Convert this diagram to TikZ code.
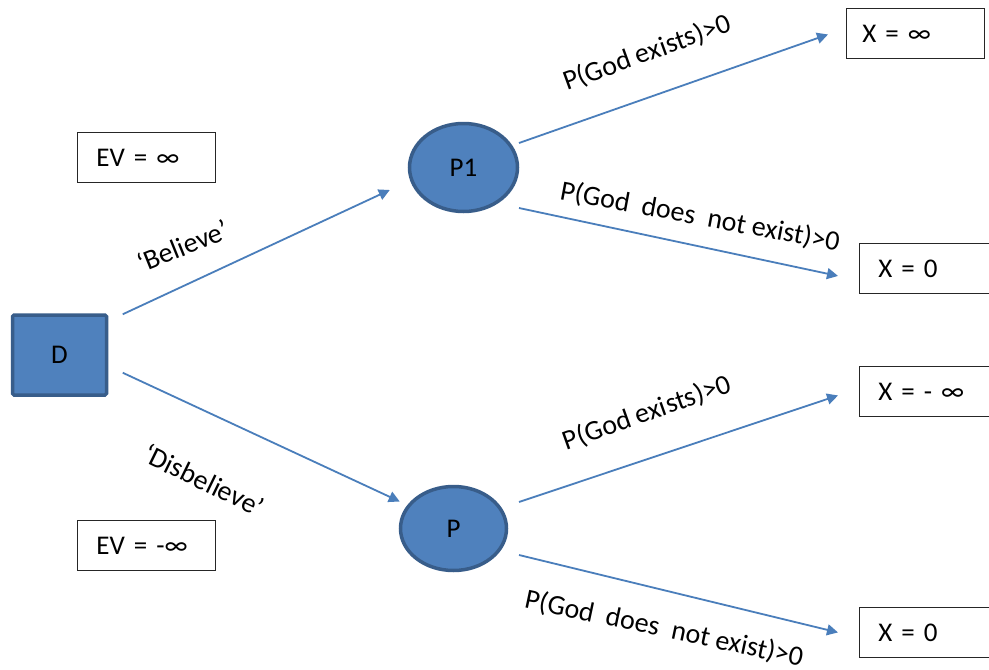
\documentclass[tikz,border=0pt]{standalone}
\usepackage{fontspec}
\setmainfont{Carlito}
\usetikzlibrary{arrows.meta,shapes.geometric,calc}
\definecolor{nodefill}{HTML}{4F81BD}
\definecolor{nodeedge}{HTML}{385D8A}
\definecolor{linkblue}{HTML}{4A7EBB}
\begin{document}
\begin{tikzpicture}[x=1pt,y=-1pt,
  font=\fontsize{27}{32}\selectfont,
  decision/.style={rectangle, draw=nodeedge, line width=3.5pt, fill=nodefill,
    minimum width=94pt, minimum height=80pt, rounded corners=1.5pt},
  chance/.style={ellipse, draw=nodeedge, line width=3.5pt, fill=nodefill,
    inner sep=0pt},
  valbox/.style={rectangle, draw=black!85, line width=0.9pt, fill=white,
    minimum height=50pt, text width=100pt, inner xsep=19pt, align=left,
    anchor=north west},
  link/.style={draw=linkblue, line width=1.8pt,
    -{Triangle[length=11pt,width=11pt]}},
  edgelab/.style={inner sep=0pt, font=\fontsize{28}{32}\selectfont}]
\clip (0,0) rectangle (989,670);
\fill[white] (0,0) rectangle (989,670);

% decision and chance nodes
\node[decision] (D) at (59.5,355) {D};
\node[chance, minimum width=108pt, minimum height=88pt] (P1) at (463.5,167.5) {P1};
\node[chance, minimum width=106pt, minimum height=84pt] (P) at (453.5,528.5) {P};

% payoff boxes
\node[valbox, inner xsep=16pt, text width=106pt] (X1) at (846,8) {X = ∞};
\node[valbox] (X2) at (859,243) {X = 0};
\node[valbox] (X3) at (859,366) {X = - ∞};
\node[valbox] (X4) at (859,607) {X = 0};

% expected values
\node[valbox] (EV1) at (77,132) {EV = ∞};
\node[valbox] (EV2) at (77,520) {EV = -∞};

% branches
\draw[link] ($(D.north east)+(14.5,1)$) -- ($(P1.west)+(-18,22.5)$);
\draw[link] ($(D.south east)+(14.5,-24)$) -- ($(P.west)+(1,-27)$);
\draw[link] ($(P1.center)+(55.5,-24.5)$) -- ($(X1.west)+(-18,1)$);
\draw[link] ($(P1.center)+(55.5,40.5)$) -- ($(X2.west)+(-21,7.5)$);
\draw[link] ($(P.center)+(65.5,-26.5)$) -- ($(X3.west)+(-21,4)$);
\draw[link] ($(P.center)+(65.5,26.5)$) -- ($(X4.west)+(-21,0)$);

% branch labels
\node[edgelab, rotate=22] (lb) at (183,246) {‘Believe’};
\node[edgelab, rotate=-26] (ld) at (204,480) {‘Disbelieve’};
\node[edgelab, rotate=20] (l1) at (647,53) {P(God exists)>0};
\node[edgelab, rotate=-10.6] (l2) at (700,217) {P(God\ \ does\ \ not exist)>0};
\node[edgelab, rotate=19.6] (l3) at (647,413) {P(God exists)>0};
\node[edgelab, rotate=-12] (l4) at (664,629) {P(God\ \ does\ \ not exist)>0};
\end{tikzpicture}
\end{document}
